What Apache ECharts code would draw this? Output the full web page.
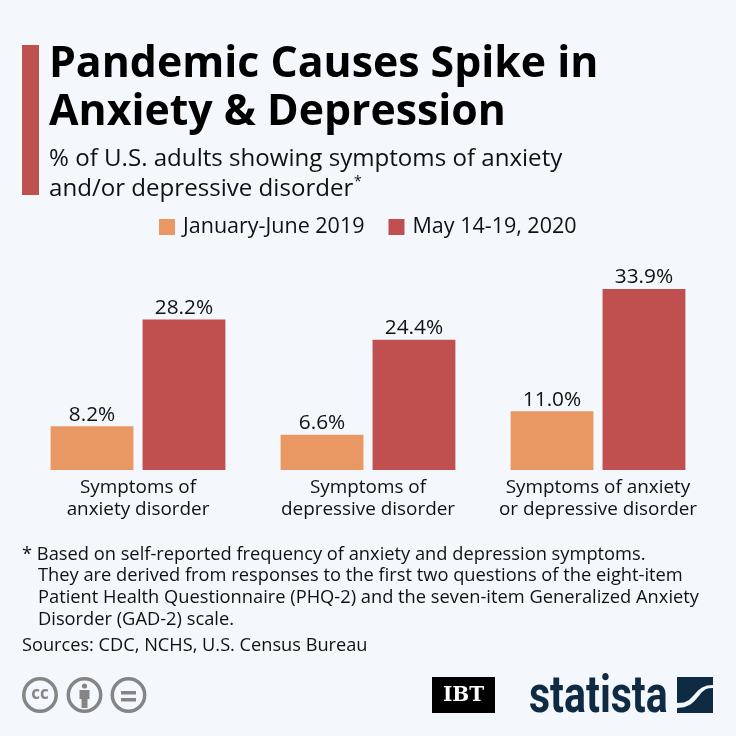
<!DOCTYPE html>
<html><head><meta charset="utf-8">
<style>html,body{margin:0;padding:0;background:#f4f8fc}#c{width:736px;height:736px}</style>
<script src="https://cdn.jsdelivr.net/npm/echarts@6/dist/echarts.min.js"></script>
</head><body><div id="c"></div>
<script>
const categories = ['Symptoms of\nanxiety disorder','Symptoms of\ndepressive disorder','Symptoms of anxiety\nor depressive disorder'];
const seriesNames = ['January-June 2019','May 14-19, 2020'];
const values2019 = [8.2,6.6,11.0];
const values2020 = [28.2,24.4,33.9];
const colors = ['#e99863','#c0504f'];
const titleLines = ['Pandemic Causes Spike in','Anxiety & Depression'];
const subtitleLines = ['% of U.S. adults showing symptoms of anxiety','and/or depressive disorder'];
const footnotes = ['* Based on self-reported frequency of anxiety and depression symptoms.',
'They are derived from responses to the first two questions of the eight-item',
'Patient Health Questionnaire (PHQ-2) and the seven-item Generalized Anxiety',
'Disorder (GAD-2) scale.'];
const sources = 'Sources: CDC, NCHS, U.S. Census Bureau';
const F='"Open Sans"';
const INK='#111111';
const NAVY='#0f2a43';
const GREY='#858585';
const chart = echarts.init(document.getElementById('c'),null,{renderer:'canvas'});
const txt=(x,base,t,size,weight,fill)=>({type:'text',x,y:base-0.8*size,silent:true,style:{text:t,font:`${weight} ${size}px ${F}`,fill}});
const barLabel={show:true,position:'top',distance:1,fontFamily:F,fontSize:20.8,color:INK,formatter:p=>p.value.toFixed(1)+'%'};
const g=[
 {type:'rect',shape:{x:22,y:45,width:17,height:150},style:{fill:colors[1]}},
 txt(49,78,titleLines[0],42.8,700,'#000'),
 txt(49,126,titleLines[1],42.8,700,'#000'),
 txt(49,166,subtitleLines[0],24.1,400,INK),
 txt(49,196,subtitleLines[1],24.1,400,INK),
 txt(354,186,'*',14,400,INK),
 ...footnotes.map((t,i)=>txt(i?38:22,560+i*21.8,t,18.3,400,INK)),
 txt(22,651,sources,18.2,400,INK),
 ...[40,84.5,128.5].map(cx=>({type:'circle',shape:{cx,cy:695,r:16.2},style:{fill:'none',stroke:GREY,lineWidth:3.5}})),
 {type:'text',x:40,y:694.5,style:{text:'cc',font:`700 17px ${F}`,fill:GREY,align:'center',verticalAlign:'middle'}},
 {type:'circle',shape:{cx:84.5,cy:686,r:2.6},style:{fill:GREY}},
 {type:'rect',shape:{x:79.5,y:690,width:10,height:9},style:{fill:GREY}},
 {type:'rect',shape:{x:81.5,y:698,width:6,height:10},style:{fill:GREY}},
 {type:'rect',shape:{x:121,y:691,width:15,height:3.5},style:{fill:GREY}},
 {type:'rect',shape:{x:121,y:698,width:15,height:3.5},style:{fill:GREY}},
 {type:'rect',shape:{x:432,y:677,width:63,height:36},style:{fill:'#000'}},
 {type:'text',x:463.5,y:695.5,style:{text:'IBT',font:'700 20px "DejaVu Serif"',fill:'#fff',align:'center',verticalAlign:'middle'}},
 {type:'text',x:529,y:672.5,scaleX:0.79,style:{text:'statista',font:`700 52px Roboto`,fill:NAVY}},
 {type:'polygon',shape:{points:[[677,677],[713,677],[713,685],[707,685.6],[702,687.5],[698,690.5],[693,696],[689,700],[684,702.4],[677,703]]},style:{fill:NAVY}},
 {type:'polygon',shape:{points:[[713,688],[713,713],[677,713],[677,708],[684,707.3],[690,704.8],[694,701.5],[698,697],[702,692],[706,689],[709,688.2]]},style:{fill:NAVY}},
];
chart.setOption({
 backgroundColor:'#f4f8fc',
 animation:false,
 color:colors,
 legend:{left:159,top:216,padding:0,itemWidth:16,itemHeight:16,itemGap:24,icon:'rect',
   textStyle:{fontFamily:F,fontSize:21.5,color:INK,padding:[2,0,0,3]},data:seriesNames},
 grid:{left:23,right:23,top:256.4,height:213.6},
 xAxis:{type:'category',data:categories,axisLine:{show:false},axisTick:{show:false},
   axisLabel:{interval:0,margin:7,fontFamily:F,fontSize:18.9,lineHeight:22,color:INK}},
 yAxis:{type:'value',min:0,max:40,show:false,splitLine:{show:false}},
 series:[
  {name:seriesNames[0],type:'bar',data:values2019,barGap:'11%',barCategoryGap:'24%',label:barLabel,itemStyle:{color:colors[0]}},
  {name:seriesNames[1],type:'bar',data:values2020,label:barLabel,itemStyle:{color:colors[1]}}
 ],
 graphic:{elements:g}
});
</script></body></html>
